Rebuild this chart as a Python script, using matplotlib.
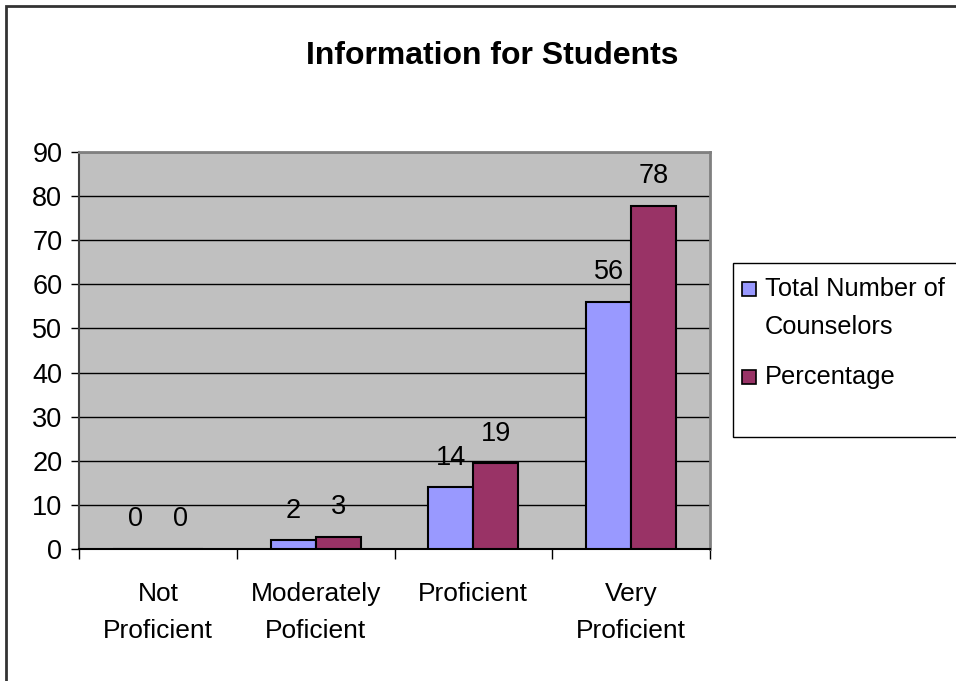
import numpy as np
import matplotlib.pyplot as plt
from matplotlib.patches import Rectangle

# data
categories = ['Not\nProficient', 'Moderately\nPoficient', 'Proficient', 'Very\nProficient']
series_names = ['Total Number of\nCounselors', 'Percentage']
counselors = [0, 2, 14, 56]
percentage = [0, 2.78, 19.44, 77.78]
colors = ['#9999FF', '#993366']
yticks = [0, 10, 20, 30, 40, 50, 60, 70, 80, 90]

plt.rcParams['font.family'] = ['Liberation Sans', 'DejaVu Sans']
fs = 19

W, H = 956, 681
fig = plt.figure(figsize=(W / 100, H / 100), dpi=100)
ax = fig.add_axes([79 / W, 1 - 549 / H, (710 - 79) / W, (549 - 152) / H])
ax.set_facecolor('#C0C0C0')

x = np.arange(len(categories)) + 0.5
bw = 0.285
b1 = ax.bar(x - bw / 2, counselors, bw, color=colors[0], edgecolor='black', linewidth=1.5, zorder=3)
b2 = ax.bar(x + bw / 2, percentage, bw, color=colors[1], edgecolor='black', linewidth=1.5, zorder=3)
ax.bar_label(b1, fmt='%.0f', padding=12, fontsize=19.5)
ax.bar_label(b2, fmt='%.0f', padding=12, fontsize=19.5)

ax.set_xlim(0, len(categories))
ax.set_ylim(0, 90)
ax.set_yticks(yticks)
ax.tick_params(axis='y', labelsize=19.5, length=6, width=1, pad=6)
ax.set_xticks(np.arange(len(categories) + 1))
ax.set_xticklabels([])
ax.tick_params(axis='x', which='major', length=7.2, width=1)
ax.set_xticks(x, minor=True)
ax.set_xticklabels(categories, minor=True, fontsize=fs, linespacing=1.66)
ax.tick_params(axis='x', which='minor', length=0, pad=24)

ax.yaxis.grid(True, color='black', linewidth=1)
ax.set_axisbelow(True)
for s in ['top', 'right']:
    ax.spines[s].set_color('#808080')
    ax.spines[s].set_linewidth(2)
ax.spines['left'].set_color('#404040')
ax.spines['left'].set_linewidth(1.5)
ax.spines['bottom'].set_color('black')
ax.spines['bottom'].set_linewidth(1.5)

fig.text(492 / W, 1 - 56 / H, 'Information for Students', ha='center', va='center',
         fontsize=23, fontweight='bold')

# outer chart border (runs off right and bottom edges)
fig.add_artist(Rectangle((6 / W, -0.1), 1.2, 1.1 - 6 / H, transform=fig.transFigure,
                         fill=False, edgecolor='#333333', linewidth=2))

# legend box
fig.add_artist(Rectangle((733 / W, 1 - 437 / H), 0.5, (437 - 263) / H, transform=fig.transFigure,
                         facecolor='white', edgecolor='black', linewidth=1))
sq = 14
for name, col, ty, my in zip(series_names, colors, [308, 377], [289, 377]):
    fig.add_artist(Rectangle(((749 - sq / 2) / W, 1 - (my + sq / 2) / H), sq / W, sq / H,
                             transform=fig.transFigure, facecolor=col, edgecolor='black', linewidth=1.2))
    fig.text(765 / W, 1 - ty / H, name, ha='left', va='center', fontsize=18.3, linespacing=1.72)

fig.savefig('out.png', dpi=100)
